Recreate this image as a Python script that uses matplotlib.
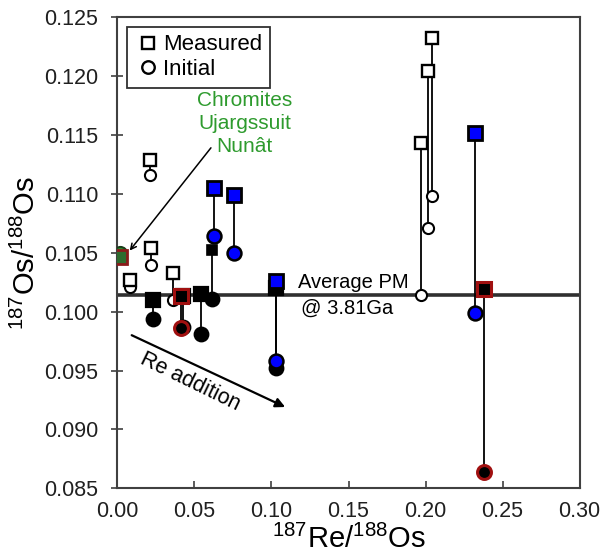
import matplotlib.pyplot as plt
from matplotlib.lines import Line2D

plt.rcParams['font.family'] = ['Liberation Sans', 'DejaVu Sans']
plt.rcParams['mathtext.default'] = 'regular'

# sample groups, Re/Os ratio, measured and initial 187Os/188Os
kind = ['open', 'open', 'open', 'open', 'open', 'open', 'open',
        'black', 'black', 'black_small', 'black', 'black',
        'blue', 'blue', 'blue', 'blue',
        'red', 'red', 'green']
re_os = [0.021, 0.022, 0.008, 0.036, 0.2042, 0.2016, 0.1973,
         0.0231, 0.0543, 0.0612, 0.1027, 0.0426,
         0.0629, 0.0758, 0.1027, 0.2321,
         0.0414, 0.2377, 0.0016]
os_measured = [0.1129, 0.1054, 0.1027, 0.1033, 0.1232, 0.1204, 0.1143,
               0.1010, 0.1015, 0.1052, 0.1020, 0.1013,
               0.1105, 0.1099, 0.1026, 0.1152,
               0.1013, 0.1019, 0.1046]
os_initial = [0.1116, 0.1040, 0.1021, 0.1010, 0.1098, 0.1071, 0.1014,
              0.0994, 0.0981, 0.1011, 0.0952, 0.0987,
              0.1064, 0.1050, 0.0958, 0.0999,
              0.0986, 0.0864, 0.1050]

pm_value = 0.1014

styles = {
    'open': dict(sq=dict(mfc='white', mec='black', ms=8.5, mew=1.7),
                 ci=dict(mfc='white', mec='black', ms=8, mew=1.5)),
    'black': dict(sq=dict(mfc='black', mec='black', ms=9.5, mew=1.6),
                  ci=dict(mfc='black', mec='black', ms=10, mew=1.4)),
    'black_small': dict(sq=dict(mfc='black', mec='black', ms=6.5, mew=1.2),
                        ci=dict(mfc='black', mec='black', ms=10, mew=1.4)),
    'blue': dict(sq=dict(mfc='#0000ff', mec='black', ms=9.5, mew=2.0),
                 ci=dict(mfc='#0000ff', mec='black', ms=10, mew=1.8)),
    'red': dict(sq=dict(mfc='black', mec='#a01010', ms=10, mew=2.2),
                ci=dict(mfc='black', mec='#a01010', ms=10, mew=2.2)),
    'green': dict(sq=dict(mfc='#2e6b2e', mec='#8b1a1a', ms=10, mew=2.0),
                  ci=dict(mfc='#2a8c2a', mec='#1a3d1a', ms=9.5, mew=1.4)),
}

fig = plt.figure(figsize=(6.04, 5.56), dpi=100)
ax = fig.add_axes([0.1945, 0.1218, 0.765, 0.8471])

# primitive mantle reference line
ax.plot([0, 0.30], [pm_value, pm_value], color='#303030', lw=2.6, zorder=2)

for k, x, m, i in zip(kind, re_os, os_measured, os_initial):
    ax.plot([x, x], [m, i], color='black', lw=1.3, zorder=3)

for k, x, m, i in zip(kind, re_os, os_measured, os_initial):
    st = styles[k]
    ax.plot(x, i, marker='o', ls='none', zorder=4, **st['ci'])
    ax.plot(x, m, marker='s', ls='none', zorder=5, **st['sq'])

ax.text(0.117, pm_value + 0.0003, 'Average PM', fontsize=14.5,
        ha='left', va='bottom')
ax.text(0.119, pm_value - 0.0003, '@ 3.81Ga', fontsize=14.5,
        ha='left', va='top')

ax.text(0.0827, 0.1160, 'Chromites\nUjargssuit\nNunât', color='#2e9b2e',
        fontsize=15, ha='center', va='center', linespacing=1.25)
ax.annotate('', xy=(0.0068, 0.1050), xytext=(0.0618, 0.1141),
            arrowprops=dict(arrowstyle='->', color='black', lw=1.1))

ax.annotate('', xy=(0.1105, 0.0918), xytext=(0.0076, 0.0981),
            arrowprops=dict(arrowstyle='-|>', color='black', lw=1.6,
                            mutation_scale=14))
ax.text(0.0470, 0.0940, 'Re addition', fontsize=15.5, rotation=-26,
        ha='center', va='center', rotation_mode='anchor')

ax.set_xlim(0, 0.30)
ax.set_ylim(0.085, 0.125)
ax.set_xticks([0, 0.05, 0.10, 0.15, 0.20, 0.25, 0.30])
ax.set_yticks([0.085, 0.090, 0.095, 0.100, 0.105, 0.110, 0.115, 0.120, 0.125])
ax.xaxis.set_major_formatter(plt.FormatStrFormatter('%.2f'))
ax.yaxis.set_major_formatter(plt.FormatStrFormatter('%.3f'))
ax.tick_params(axis='x', direction='in', length=5, width=1.2,
               labelsize=15.5, color='#404040', labelcolor='#202020', pad=9)
ax.tick_params(axis='y', direction='inout', length=8, width=1.2,
               labelsize=15.5, color='#404040', labelcolor='#202020', pad=10)
for sp in ax.spines.values():
    sp.set_color('#404040')
    sp.set_linewidth(1.5)

ax.set_xlabel(r'$^{187}$Re/$^{188}$Os', fontsize=21, labelpad=2)
ax.set_ylabel(r'$^{187}$Os/$^{188}$Os', fontsize=21, labelpad=2)

handles = [Line2D([], [], marker='s', ls='none', mfc='white', mec='black',
                  ms=9, mew=1.7, label='Measured'),
           Line2D([], [], marker='o', ls='none', mfc='white', mec='black',
                  ms=9, mew=1.7, label='Initial')]
leg = ax.legend(handles=handles, loc='upper left', bbox_to_anchor=(0.02, 0.98),
                borderaxespad=0, fontsize=16, fancybox=False, framealpha=1,
                edgecolor='#303030', handletextpad=0.1, handlelength=1.2,
                labelspacing=0.15, borderpad=0.35)
leg.get_frame().set_linewidth(1.3)

fig.savefig('out.png', dpi=100)
